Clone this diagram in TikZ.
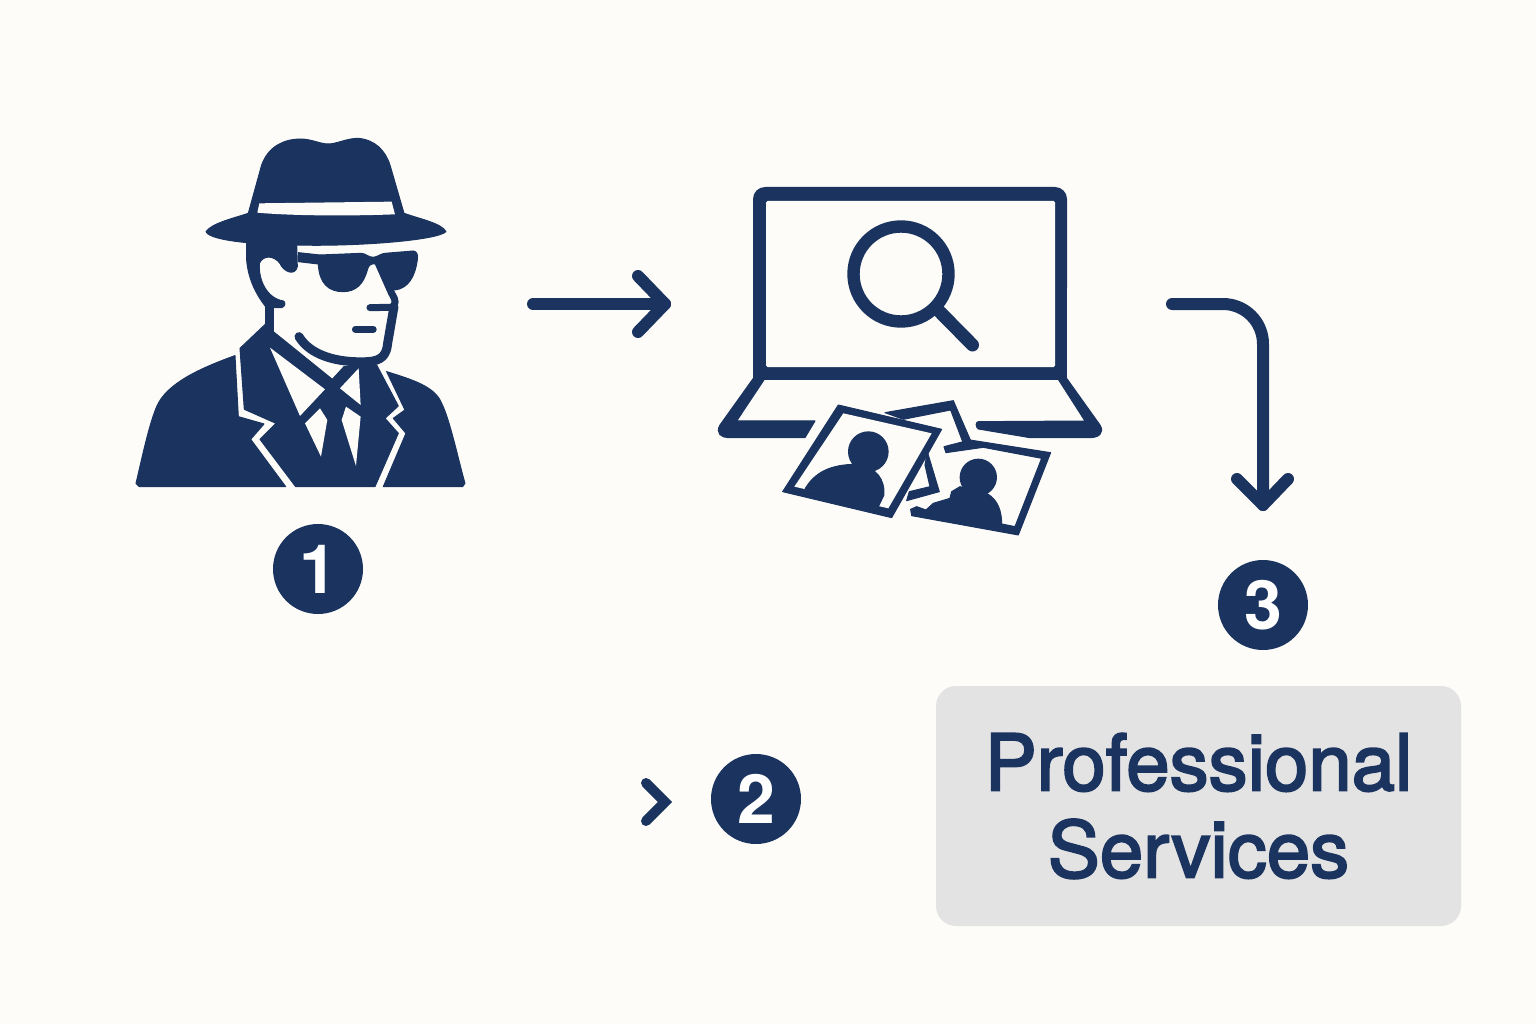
\documentclass[tikz,border=0pt]{standalone}
\usepackage{fontspec}
\setmainfont{TeX Gyre Heros}
\newfontfamily\boxfont[FakeBold=2.6]{TeX Gyre Heros}
\definecolor{navy}{HTML}{1A335F}
\definecolor{paper}{HTML}{FDFCF8}
\definecolor{panel}{HTML}{E3E3E3}
\tikzset{
  x=1pt,y=-1pt,
  ink/.style={fill=navy,draw=none},
  hole/.style={fill=paper,draw=none},
  soft/.style={fill=navy,draw=navy,line width=1pt,line join=round},
  stroke/.style={draw=navy,line cap=round,line join=round},
  flow/.style={stroke,line width=12pt},
  badge/.style={circle,fill=navy,text=white,minimum size=90pt,inner sep=0pt,font=\bfseries\fontsize{68}{68}\selectfont},
  boxlabel/.style={text=navy,font=\boxfont\fontsize{78}{87}\selectfont,align=center},
  zoomA/.style={shift={(120pt,-120pt)},x=0.3333pt,y=-0.3333pt},
  zoomB/.style={shift={(700pt,-370pt)},x=0.3333pt,y=-0.3333pt}
}
\begin{document}
\begin{tikzpicture}
\fill[paper] (0,0) rectangle (1536,1024);
\useasboundingbox (0,0) rectangle (1536,1024);
% detective
\begin{scope}[zoomA]
 \fill[soft] (258,335) .. controls (275,310) and (340,295) .. (385,280)
   -- (425,135) .. controls (445,80) and (490,58) .. (540,57)
   .. controls (575,57) and (600,72) .. (625,72)
   .. controls (650,72) and (680,55) .. (715,55)
   .. controls (765,60) and (795,90) .. (810,135)
   -- (852,280) .. controls (900,297) and (965,310) .. (978,335)
   .. controls (950,362) and (700,380) .. (530,375)
   .. controls (440,375) and (270,365) .. (258,335) -- cycle;
 \fill[hole] (418,250) -- (815,245) -- (825,283) .. controls (700,288) and (520,288) .. (412,278) -- cycle;
 % hair and neck back
 \fill[soft] (380,360) -- (380,420) .. controls (385,480) and (410,525) .. (437,560)
   -- (437,615) -- (460,640) -- (460,563) -- (485,563)
   .. controls (497,560) and (497,545) .. (490,543)
   .. controls (440,535) and (415,480) .. (418,430)
   .. controls (430,405) and (460,405) .. (480,430)
   .. controls (490,455) and (525,470) .. (532,440) -- (530,370) -- cycle;
 % glasses
 \fill[soft] (535,398) -- (600,405) -- (725,400) .. controls (740,402) and (745,412) .. (760,412)
   .. controls (775,410) and (780,402) .. (795,400) -- (880,393)
   .. controls (892,395) and (894,405) .. (892,420)
   .. controls (885,470) and (865,505) .. (825,510)
   -- (805,510) .. controls (795,480) and (785,432) .. (765,432)
   .. controls (755,430) and (745,435) .. (742,450)
   .. controls (730,495) and (705,515) .. (670,515)
   .. controls (625,515) and (598,490) .. (595,432)
   -- (535,425) -- cycle;
 % nose, mouth, jaw
 \draw[stroke,line width=7pt] (775,430) -- (815,520) .. controls (830,545) and (828,552) .. (815,562) -- (750,563);
 \draw[stroke,line width=6.8pt] (706,628) -- (760,628);
 \draw[stroke,line width=9pt] (537,650) .. controls (570,705) and (650,730) .. (745,725)
   .. controls (785,722) and (800,705) .. (803,670) -- (822,560);
 % coat left and right
 \fill[soft] (345,707) -- (355,890) -- (432,912) -- (392,958) -- (497,1100) -- (58,1100)
   -- (48,1090) .. controls (65,1020) and (85,920) .. (110,860)
   .. controls (140,790) and (240,745) .. (345,707) -- cycle;
 \fill[soft] (800,755) -- (855,870) -- (820,895) -- (858,940) -- (790,1100) -- (1028,1100)
   -- (1035,1090) .. controls (1015,1020) and (990,900) .. (965,850)
   .. controls (945,800) and (880,780) .. (800,755) -- cycle;
 % jacket centre
 \fill[soft] (360,685) -- (437,612) -- (460,635) -- (637,778) -- (672,740) -- (770,735)
   -- (835,858) -- (795,895) -- (835,940) -- (765,1100) -- (527,1100) -- (420,958)
   -- (468,910) -- (373,868) -- cycle;
 % shirt and tie
 \fill[hole] (450,683) -- (615,808) -- (540,888) -- cycle;
 \fill[hole] (716,745) -- (722,855) -- (660,805) -- cycle;
 \fill[hole] (600,865) -- (622,900) -- (603,1010) -- (555,910) -- cycle;
 \fill[hole] (678,860) -- (722,890) -- (708,1038) -- (665,900) -- cycle;
\end{scope}
\node[badge] (b1) at (318,569) {1};
% laptop
\fill[navy,rounded corners=12pt] (753,187) rectangle (1067,300);
\fill[navy] (753,250) rectangle (1067,380);
\fill[paper,rounded corners=1.5pt] (766,201) rectangle (1055,367);
\coordinate (lensC) at (901,274);
\coordinate (handleA) at (936,308);
\coordinate (handleB) at (972.5,345);
\draw[draw=navy,line width=12.4pt] (lensC) circle (47.5);
\draw[draw=navy,line width=13pt,line cap=round] (handleA) -- (handleB);
\begin{scope}[zoomB]
 \fill[soft] (160,25) -- (60,165) .. controls (45,190) and (65,203) .. (85,203)
   -- (315,203) -- (345,153) -- (110,153) -- (195,25) -- cycle;
 \fill[soft] (1100,25) -- (1200,165) .. controls (1215,190) and (1195,203) .. (1170,203)
   -- (990,203) -- (835,177) .. controls (825,170) and (828,155) .. (835,155)
   -- (1155,153) -- (1073,25) -- cycle;
 % back photo
 \fill[soft] (555,128) -- (760,92) -- (812,212) -- (790,220) -- (752,120) -- (610,148) -- cycle;
 \fill[soft] (682,245) -- (718,365) -- (620,392) -- (628,365) -- (690,350) -- (675,285) -- cycle;
 % left photo
 \fill[soft] (415,105) -- (725,178) -- (575,443) -- (248,365) -- cycle;
 \fill[hole] (430,130) -- (695,190) -- (565,415) -- (283,350) -- cycle;
 \fill[ink] (505,245) circle (61);
 \fill[soft] (315,357) .. controls (345,305) and (395,283) .. (470,283)
   .. controls (530,290) and (555,330) .. (552,375) -- (535,410) -- cycle;
 % right photo
 \fill[soft] (732,230) -- (810,210) -- (1052,248) -- (955,495) -- (635,437) -- (632,418)
   -- (650,410) -- (678,420) -- (700,400) -- (750,385) -- (755,365) -- (780,350)
   -- (860,370) .. controls (895,390) and (905,425) .. (905,462) -- (945,470)
   -- (1025,265) -- (850,232) -- (738,248) -- cycle;
 \fill[ink] (835,322) circle (56);
\end{scope}
% arrows
\coordinate (a1s) at (533,304);
\coordinate (a1e) at (665,304);
\draw[flow] (a1s) -- (a1e);
\draw[flow] (638,276) -- (a1e) -- (638,332);
\coordinate (a2e) at (665,802);
\draw[flow,line width=10pt,line join=miter] (646,783) -- (a2e) -- (646,821);
\coordinate (a3s) at (1172,304);
\coordinate (a3e) at (1263,505);
\draw[flow] (a3s) -- (1223,304) arc[start angle=-90,end angle=0,radius=40] -- (a3e);
\draw[flow] (1237,479) -- (a3e) -- (1288,479);
% badges
\node[badge] (b2) at (756,799) {2};
\node[badge] (b3) at (1263,605) {3};
% box
\node[fill=panel,rounded corners=20pt,minimum width=525pt,minimum height=240pt,inner sep=0pt] (svc) at (1198.5,806) {};
\node[boxlabel] (svclabel) at (svc.center) {Professional\\Services};
\end{tikzpicture}
\end{document}
